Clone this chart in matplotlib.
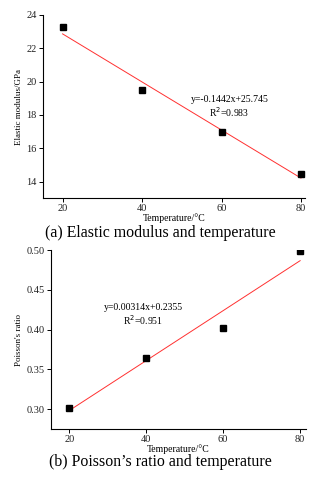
import matplotlib
matplotlib.use("Agg")
import matplotlib.pyplot as plt
import numpy as np

plt.rcParams['font.family'] = ['Liberation Serif', 'DejaVu Serif']

temps = [20, 40, 60, 80]
modulus = [23.25, 19.5, 17.0, 14.45]
poisson = [0.302, 0.365, 0.402, 0.499]
fit_a = (-0.1442, 25.745)
fit_b = (0.00314, 0.2355)

fig = plt.figure(figsize=(3.21, 4.80), dpi=100)

def style(ax):
    ax.spines['top'].set_visible(False)
    ax.spines['right'].set_visible(False)
    for s in ('left', 'bottom'):
        ax.spines[s].set_linewidth(0.8)
    ax.tick_params(direction='out', length=3, width=0.7, labelsize=7.5, pad=1.5, labelcolor='#222222')

# (a)
ax1 = fig.add_axes([0.133, 0.587, 0.817, 0.382])
xs = np.array([20, 80])
ax1.plot(xs, fit_a[0]*xs + fit_a[1], color='#ff3030', lw=0.7)
ax1.plot(temps, modulus, 's', color='black', ms=4)
ax1.set_xlim(15, 81)
ax1.set_ylim(13, 24)
ax1.set_xticks([20, 40, 60, 80])
ax1.set_yticks([14, 16, 18, 20, 22, 24])
style(ax1)
ax1.set_xlabel('Temperature/°C', fontsize=7, labelpad=0)
ax1.set_ylabel('Elastic modulus/GPa', fontsize=6.5, labelpad=2)
ax1.text(62, 18.45, 'y=-0.1442x+25.745\nR$^2$=0.983', fontsize=7, ha='center', va='center', linespacing=1.1)
fig.text(0.5, 1 - 233/480, '(a) Elastic modulus and temperature', fontsize=11.4, ha='center', va='center')

# (b)
ax2 = fig.add_axes([0.158, 0.106, 0.795, 0.373])
ax2.plot(xs, fit_b[0]*xs + fit_b[1], color='#ff3030', lw=0.7)
ax2.plot(temps, poisson, 's', color='black', ms=4)
ax2.set_xlim(15.2, 81.5)
ax2.set_ylim(0.275, 0.5)
ax2.set_xticks([20, 40, 60, 80])
ax2.set_yticks([0.30, 0.35, 0.40, 0.45, 0.50])
ax2.set_yticklabels(['0.30', '0.35', '0.40', '0.45', '0.50'])
style(ax2)
ax2.set_xlabel('Temperature/°C', fontsize=7, labelpad=0)
ax2.set_ylabel("Poisson's ratio", fontsize=6.5, labelpad=2)
ax2.text(39.2, 0.4188, 'y=0.00314x+0.2355\nR$^2$=0.951', fontsize=7, ha='center', va='center', linespacing=1.1)
fig.text(0.5, 1 - 462/480, '(b) Poisson\u2019s ratio and temperature', fontsize=11.4, ha='center', va='center')

fig.savefig('out.png', dpi=100)
